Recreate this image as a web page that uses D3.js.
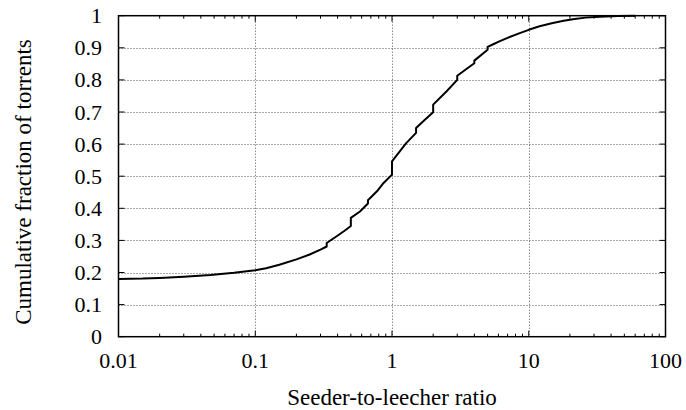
<!DOCTYPE html>
<html>
<head>
<meta charset="utf-8">
<script src="https://cdn.jsdelivr.net/npm/d3@7"></script>
</head>
<body style="margin:0">
<svg id="chart" width="686" height="410" style="font-family: 'Liberation Serif', serif"></svg>
<script>
// ---- data ----
const ratio = [0.01, 0.015, 0.02, 0.03, 0.047, 0.07, 0.1, 0.12, 0.15, 0.2, 0.25, 0.3, 0.333, 0.333,
  0.394, 0.45, 0.5, 0.5, 0.583, 0.667, 0.667, 0.776, 0.868, 1, 1, 1.14, 1.27, 1.5, 1.5, 1.74, 2, 2,
  2.5, 3, 3, 3.5, 4, 4, 5, 5, 5.5, 6.1, 7, 8.5, 10, 12, 15, 18, 21, 26, 33, 45, 60];
const cumFraction = [0.18, 0.181, 0.183, 0.187, 0.192, 0.199, 0.207, 0.213, 0.224, 0.241, 0.256, 0.271, 0.281, 0.292,
  0.313, 0.33, 0.345, 0.37, 0.39, 0.415, 0.425, 0.453, 0.479, 0.505, 0.546, 0.577, 0.603, 0.635, 0.65, 0.676, 0.699, 0.723,
  0.764, 0.80, 0.813, 0.834, 0.852, 0.86, 0.894, 0.903, 0.911, 0.92, 0.931, 0.945, 0.956, 0.967, 0.977, 0.984, 0.989, 0.994, 0.997, 0.999, 1.0];
const xTicks = [0.01, 0.1, 1, 10, 100];
const xTickLabels = ["0.01", "0.1", "1", "10", "100"];
const yTicks = [0, 0.1, 0.2, 0.3, 0.4, 0.5, 0.6, 0.7, 0.8, 0.9, 1];
const yTickLabels = ["0", "0.1", "0.2", "0.3", "0.4", "0.5", "0.6", "0.7", "0.8", "0.9", "1"];
const xTitle = "Seeder-to-leecher ratio";
const yTitle = "Cumulative fraction of torrents";

// ---- layout ----
const L = 118.5, R = 665.5, T = 15.7, B = 336.7;
const svg = d3.select("#chart");
const x = d3.scaleLog().domain([0.01, 100]).range([L, R]);
const y = d3.scaleLinear().domain([0, 1]).range([B, T]);

// minor ticks
const minor = [];
for (let e = -2; e < 2; e++) for (let m = 2; m <= 9; m++) minor.push(m * Math.pow(10, e));

// grid
const grid = svg.append("g").attr("stroke", "#555").attr("stroke-width", 1)
  .attr("stroke-dasharray", "1,2").attr("fill", "none");
grid.selectAll("line.gy").data(yTicks.slice(1, -1)).join("line")
  .attr("x1", L).attr("x2", R)
  .attr("y1", d => Math.round(y(d)) + 0.5).attr("y2", d => Math.round(y(d)) + 0.5);
grid.selectAll("line.gx").data(xTicks.slice(1, -1)).join("line")
  .attr("y1", T).attr("y2", B)
  .attr("x1", d => Math.round(x(d)) + 0.5).attr("x2", d => Math.round(x(d)) + 0.5);

// ticks
const tk = svg.append("g").attr("stroke", "#000").attr("stroke-width", 1);
tk.selectAll("line.ymL").data(yTicks).join("line")
  .attr("x1", L).attr("x2", L + 6).attr("y1", d => y(d)).attr("y2", d => y(d));
tk.selectAll("line.ymR").data(yTicks).join("line")
  .attr("x1", R - 6).attr("x2", R).attr("y1", d => y(d)).attr("y2", d => y(d));
tk.selectAll("line.xmB").data(xTicks).join("line")
  .attr("x1", d => x(d)).attr("x2", d => x(d)).attr("y1", B).attr("y2", B - 6);
tk.selectAll("line.xmT").data(xTicks).join("line")
  .attr("x1", d => x(d)).attr("x2", d => x(d)).attr("y1", T).attr("y2", T + 6);
tk.selectAll("line.xnB").data(minor).join("line")
  .attr("x1", d => x(d)).attr("x2", d => x(d)).attr("y1", B).attr("y2", B - 3);
tk.selectAll("line.xnT").data(minor).join("line")
  .attr("x1", d => x(d)).attr("x2", d => x(d)).attr("y1", T).attr("y2", T + 3);

// frame
svg.append("rect").attr("x", L).attr("y", T).attr("width", R - L).attr("height", B - T)
  .attr("fill", "none").attr("stroke", "#000").attr("stroke-width", 1.5);

// curve
const pts = ratio.map((r, i) => [r, cumFraction[i]]);
svg.append("path").datum(pts)
  .attr("fill", "none").attr("stroke", "#000").attr("stroke-width", 2)
  .attr("stroke-linejoin", "round")
  .attr("d", d3.line().x(d => x(d[0])).y(d => y(d[1])));

// tick labels
svg.append("g").selectAll("text").data(yTicks).join("text")
  .attr("x", 102).attr("y", d => y(d) + 7.5)
  .attr("text-anchor", "end").attr("font-size", 22)
  .style("font-family", "Liberation Serif, serif")
  .text((d, i) => yTickLabels[i]);
svg.append("g").selectAll("text").data(xTicks).join("text")
  .attr("x", d => x(d)).attr("y", 368)
  .attr("text-anchor", "middle").attr("font-size", 22)
  .style("font-family", "Liberation Serif, serif")
  .text((d, i) => xTickLabels[i]);

// titles
svg.append("text").attr("x", (L + R) / 2).attr("y", 405)
  .attr("text-anchor", "middle").attr("font-size", 23)
  .style("font-family", "Liberation Serif, serif")
  .text(xTitle);
svg.append("text").attr("transform", "translate(31,182) rotate(-90)")
  .attr("text-anchor", "middle").attr("font-size", 23)
  .style("font-family", "Liberation Serif, serif")
  .text(yTitle);
</script>
</body>
</html>
